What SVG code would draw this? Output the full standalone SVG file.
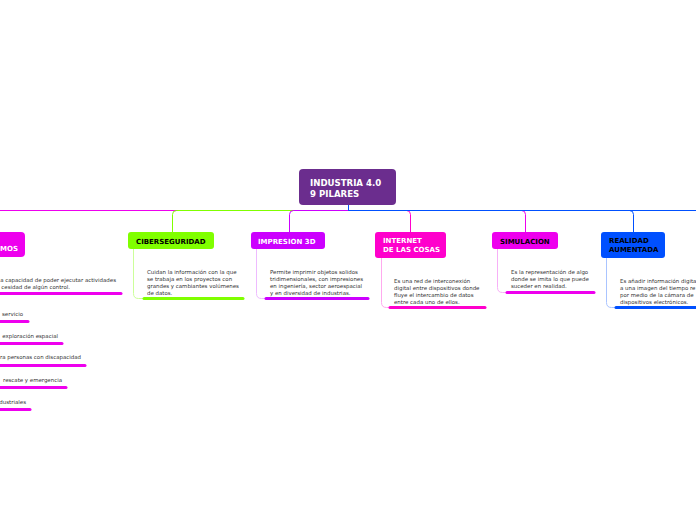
<svg xmlns="http://www.w3.org/2000/svg" width="696" height="520" viewBox="0 0 696 520">
<style>
.lbl{font-family:"DejaVu Sans",Verdana,sans-serif;font-weight:bold;font-size:7px}
.root{font-family:"DejaVu Sans",Verdana,sans-serif;font-weight:bold;font-size:8.6px;fill:#fff}
.d{font-family:"DejaVu Sans",Verdana,sans-serif;font-size:5.45px;fill:#333}
.c{fill:none;stroke-width:1}
.u{fill:none;stroke-width:3;stroke-linecap:round}
</style>
<rect width="696" height="520" fill="#fff"/>
<g id="connectors">
<path class="c" stroke="#ee00ee" d="M348.5 205 V210.5 H-10"/>
<path class="c" stroke="#80ff00" d="M348.5 205 V210.5 H176.5 Q172.5 210.5 172.5 214.5 V232"/>
<path class="c" stroke="#cc00ff" d="M348.5 205 V210.5 H293.5 Q289.5 210.5 289.5 214.5 V232"/>
<path class="c" stroke="#ff00cc" d="M348.5 205 V210.5 H406.5 Q410.5 210.5 410.5 214.5 V232"/>
<path class="c" stroke="#ee00ee" d="M348.5 205 V210.5 H521.5 Q525.5 210.5 525.5 214.5 V232"/>
<path class="c" stroke="#0050ff" d="M348.5 205 V210.5 H629.5 Q633.5 210.5 633.5 214.5 V232"/>
<path class="c" stroke="#0050ff" d="M348.5 210.5 H700"/>
<path class="c" stroke="#ccff99" d="M133.5 249 V293.5 Q133.5 298.5 138.5 298.5 H143"/>
<path class="c" stroke="#eebbff" d="M256.5 249 V293.5 Q256.5 298.5 261.5 298.5 H265"/>
<path class="c" stroke="#ffaaee" d="M381.5 258 V302.5 Q381.5 307.5 386.5 307.5 H389"/>
<path class="c" stroke="#f7b0f7" d="M497.5 249 V287.5 Q497.5 292.5 502.5 292.5 H506"/>
<path class="c" stroke="#aac4ff" d="M606.5 258 V302.5 Q606.5 307.5 611.5 307.5 H615"/>
</g>
<g id="root">
<rect x="299" y="169" width="97" height="36" rx="4" fill="#6b2d8e"/>
<text class="root" x="310" y="186">INDUSTRIA 4.0</text>
<text class="root" x="310" y="197">9 PILARES</text>
</g>
<g id="robots">
<rect x="-20" y="232" width="45" height="25" rx="4" fill="#ee00ee"/>
<text class="lbl" x="18" y="251" fill="#fff" text-anchor="end">MOS</text>
<text class="d" x="116" y="282" text-anchor="end">a capacidad de poder ejecutar actividades</text>
<text class="d" x="70" y="289" text-anchor="end">cesidad de algún control.</text>
<path class="u" stroke="#ee00ee" d="M-5 293.5 H121"/>
<text class="d" x="23" y="316" text-anchor="end">servicio</text>
<path class="u" stroke="#ee00ee" d="M-5 321.5 H28"/>
<text class="d" x="58" y="338" text-anchor="end">exploración espacial</text>
<path class="u" stroke="#ee00ee" d="M-5 343.5 H62"/>
<text class="d" x="81" y="359" text-anchor="end">ra personas con discapacidad</text>
<path class="u" stroke="#ee00ee" d="M-5 365.5 H85"/>
<text class="d" x="62" y="382" text-anchor="end">rescate y emergencia</text>
<path class="u" stroke="#ee00ee" d="M-5 387.5 H66"/>
<text class="d" x="26" y="404" text-anchor="end">dustriales</text>
<path class="u" stroke="#ee00ee" d="M-5 409.5 H30"/>
</g>
<g id="ciberseguridad">
<rect x="128" y="232" width="86" height="17" rx="3" fill="#80ff00"/>
<text class="lbl" x="136" y="244" fill="#000">CIBERSEGURIDAD</text>
<text class="d" x="147" y="274">Cuidan la información con la que</text>
<text class="d" x="147" y="281">se trabaja en los proyectos con</text>
<text class="d" x="147" y="288">grandes y cambiantes volúmenes</text>
<text class="d" x="147" y="295">de datos.</text>
<path class="u" stroke="#80ff00" d="M144 298.5 H243"/>
</g>
<g id="impresion3d">
<rect x="251" y="232" width="74" height="17" rx="3" fill="#cc00ff"/>
<text class="lbl" x="258" y="244" fill="#fff">IMPRESION 3D</text>
<text class="d" x="270" y="274">Permite imprimir objetos solidos</text>
<text class="d" x="270" y="281">tridimensionales, con impresiones</text>
<text class="d" x="270" y="288">en ingeniería, sector aeroespacial</text>
<text class="d" x="270" y="295">y en diversidad de industrias.</text>
<path class="u" stroke="#cc00ff" d="M266 298.5 H368"/>
</g>
<g id="internet">
<rect x="375" y="232" width="71" height="26" rx="3" fill="#ff00cc"/>
<text class="lbl" x="383" y="243" fill="#fff">INTERNET</text>
<text class="lbl" x="383" y="252" fill="#fff">DE LAS COSAS</text>
<text class="d" x="394" y="283">Es una red de interconexión</text>
<text class="d" x="394" y="290">digital entre dispositivos donde</text>
<text class="d" x="394" y="297">fluye el intercambio de datos</text>
<text class="d" x="394" y="304">entre cada uno de ellos.</text>
<path class="u" stroke="#ff00cc" d="M390 307.5 H485"/>
</g>
<g id="simulacion">
<rect x="492" y="232" width="66" height="17" rx="3" fill="#ee00ee"/>
<text class="lbl" x="500" y="244" fill="#000">SIMULACION</text>
<text class="d" x="511" y="274">Es la representación de algo</text>
<text class="d" x="511" y="281">donde se imita lo que puede</text>
<text class="d" x="511" y="288">suceder en realidad.</text>
<path class="u" stroke="#ee00ee" d="M507 292.5 H594"/>
</g>
<g id="realidad">
<rect x="601" y="232" width="64" height="26" rx="3" fill="#0050ff"/>
<text class="lbl" x="609" y="243" fill="#000">REALIDAD</text>
<text class="lbl" x="609" y="252" fill="#000">AUMENTADA</text>
<text class="d" x="620" y="283">Es añadir información digita</text>
<text class="d" x="620" y="290">a una imagen del tiempo re</text>
<text class="d" x="620" y="297">por medio de la cámara de</text>
<text class="d" x="620" y="304">dispositivos electrónicos.</text>
<path class="u" stroke="#0050ff" d="M616 307.5 H700"/>
</g>
</svg>
